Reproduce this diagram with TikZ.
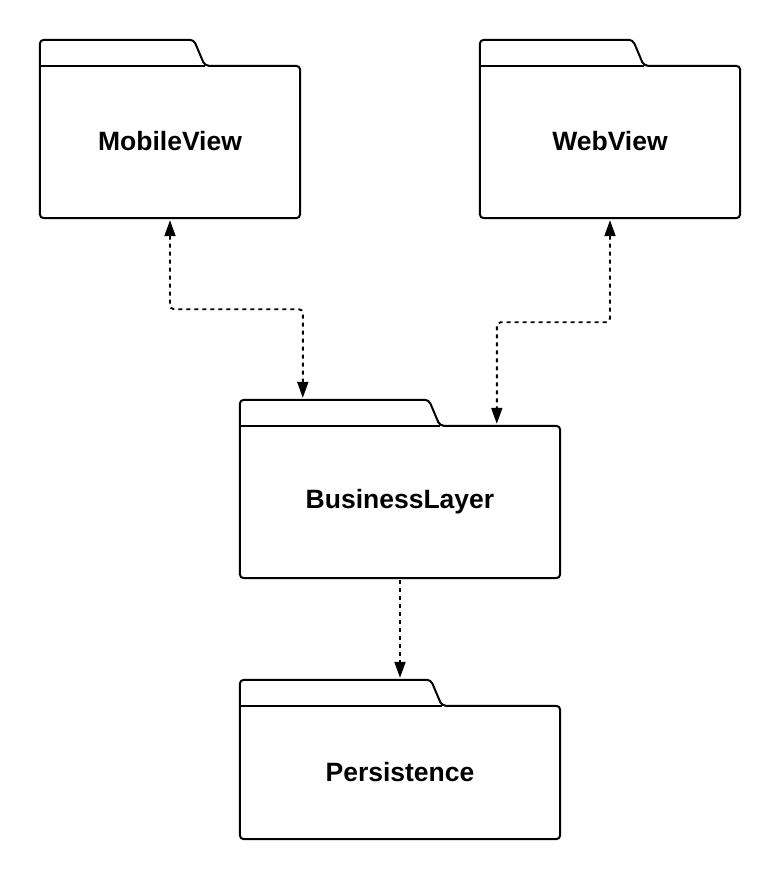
\documentclass[tikz,border=0pt]{standalone}
\usepackage{fontspec}
\setmainfont{Liberation Sans}
\usetikzlibrary{arrows.meta,calc}
\tikzset{
  body/.style={draw=none, inner sep=0pt, font=\fontsize{26.5}{30}\selectfont\bfseries},
  folderline/.style={draw=black, line width=2pt, rounded corners=4pt, line join=round},
  conn/.style={draw=black, line width=1.9pt, dash pattern=on 4pt off 4pt, rounded corners=4pt,
    >={Triangle[length=16pt,width=11pt]}}
}
\newcommand\drawfolder[3]{%
  % #1 node, #2 tab width (pt), #3 tab top width (pt)
  \draw[folderline] ([xshift=#2]#1.north west) -- ([xshift=#3,yshift=26pt]#1.north west)
    -- ([yshift=26pt]#1.north west) -- (#1.south west) -- (#1.south east)
    -- (#1.north east) -- cycle;
  \draw[line width=2pt] (#1.north west) -- ([xshift=#2]#1.north west);
}
\begin{document}
\begin{tikzpicture}[x=1pt,y=-1pt]
  \path[fill=white] (0,0) rectangle (780,880);
  \useasboundingbox (0,0) rectangle (780,880);

  \node[body, minimum width=260pt, minimum height=152pt] (mv) at (170,142) {\raisebox{2pt}{MobileView}};
  \node[body, minimum width=260pt, minimum height=152pt] (wv) at (610,142) {\raisebox{2pt}{WebView}};
  \node[body, minimum width=320pt, minimum height=152pt] (bl) at (400,502) {\raisebox{2pt}{BusinessLayer}};
  \node[body, minimum width=320pt, minimum height=133pt] (ps) at (400,772.5) {\raisebox{1pt}{Persistence}};

  \drawfolder{mv}{165pt}{154pt}
  \drawfolder{wv}{164pt}{153pt}
  \drawfolder{bl}{200pt}{189pt}
  \drawfolder{ps}{202pt}{191pt}

  \coordinate (blA) at ([xshift=63pt,yshift=26pt]bl.north west);
  \coordinate (blB) at ([xshift=257pt]bl.north west);
  \coordinate (psT) at ([yshift=26pt]ps.north);

  \draw[conn, <->, shorten <=2pt, shorten >=2pt]
    (mv.south) -- ([yshift=-91pt]mv.south) -| (blA);
  \draw[conn, <->, shorten <=2pt, shorten >=2pt]
    (wv.south) -- ([yshift=-104pt]wv.south) -| (blB);
  \draw[conn, ->, shorten <=2pt, shorten >=2pt]
    (bl.south) -- (psT);
\end{tikzpicture}
\end{document}
